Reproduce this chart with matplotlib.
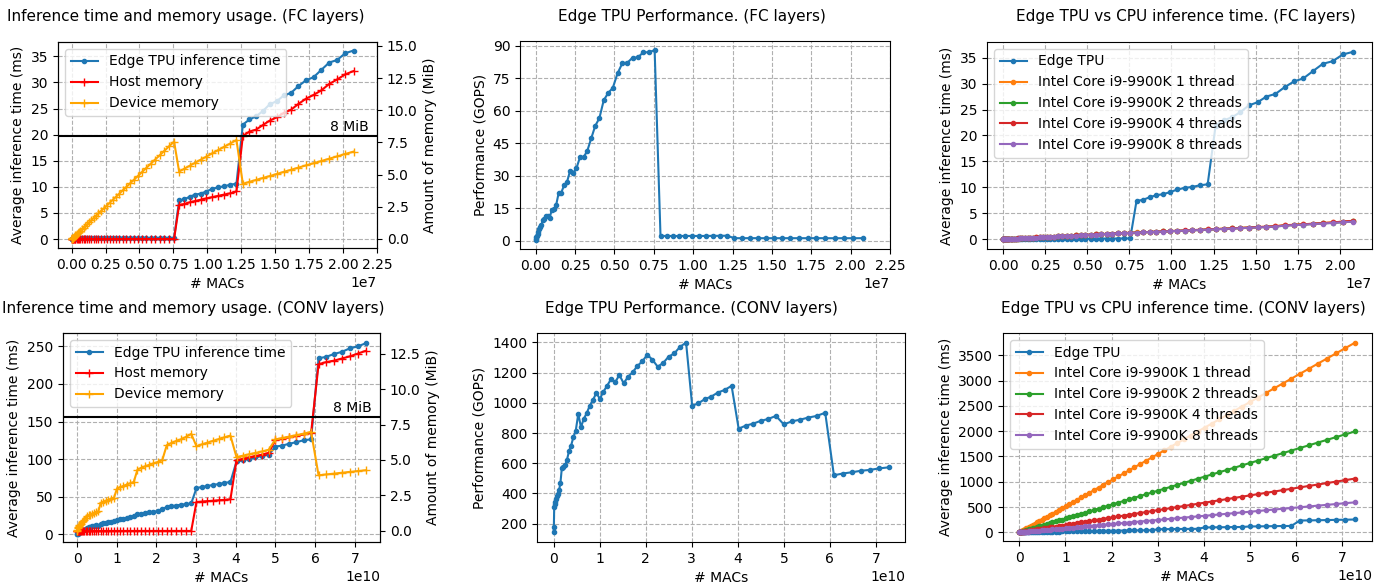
import matplotlib
matplotlib.use('Agg')
import matplotlib.pyplot as plt
import matplotlib.transforms as mtransforms
import numpy as np

W, H = 1387, 587

# ---------------- FC layers ----------------
# number of MACs of each tested layer (millions)
fc_macs_m = [0.0045, 0.018, 0.040, 0.072, 0.112, 0.162, 0.220, 0.287, 0.364, 0.449,
             0.544, 0.647, 0.759, 0.880, 1.011, 1.150, 1.298, 1.455, 1.622, 1.797,
             1.981, 2.174, 2.376, 2.587, 2.808, 3.037, 3.275, 3.522, 3.778, 4.043,
             4.317, 4.600, 4.892, 5.193, 5.503, 5.822, 6.150, 6.486, 6.832, 7.187,
             7.551, 7.924, 8.306, 8.696, 9.096, 9.505, 9.923, 10.350, 10.785, 11.230,
             11.684, 12.146, 12.618, 13.099, 13.588, 14.087, 14.594, 15.111, 15.636, 16.171,
             16.715, 17.267, 17.829, 18.399, 18.979, 19.567, 20.165, 20.771]
fc_tpu_ms = [0.02, 0.04, 0.05, 0.07, 0.07, 0.08, 0.08, 0.09, 0.10, 0.09,
             0.11, 0.12, 0.13, 0.17, 0.14, 0.16, 0.16, 0.13, 0.15, 0.14,
             0.15, 0.14, 0.15, 0.15, 0.15, 0.16, 0.16, 0.15, 0.14, 0.14,
             0.13, 0.13, 0.14, 0.13, 0.13, 0.14, 0.15, 0.15, 0.16, 0.17,
             0.17, 7.4, 7.6, 8.1, 8.5, 8.7, 9.1, 9.6, 9.9, 10.1,
             10.4, 10.6, 21.9, 22.9, 23.5, 24.5, 25.8, 26.4, 27.5, 28.0,
             29.3, 30.4, 31.0, 32.4, 33.8, 34.3, 35.6, 36.1]
fc_host_mib = [0.0, 0.0, 0.0, 0.0, 0.0, 0.0, 0.0, 0.0, 0.0, 0.0,
               0.0, 0.0, 0.0, 0.0, 0.0, 0.0, 0.0, 0.0, 0.0, 0.0,
               0.0, 0.0, 0.0, 0.0, 0.0, 0.0, 0.0, 0.0, 0.0, 0.0,
               0.0, 0.0, 0.0, 0.0, 0.0, 0.0, 0.0, 0.0, 0.0, 0.0,
               0.0, 2.65, 2.72, 2.85, 2.95, 3.05, 3.15, 3.25, 3.35, 3.45,
               3.55, 3.70, 8.0, 8.35, 8.5, 8.85, 9.2, 9.45, 9.8, 10.05,
               10.5, 10.9, 11.2, 11.55, 12.05, 12.4, 12.8, 13.05]
fc_device_mib = [0.01, 0.02, 0.04, 0.07, 0.11, 0.16, 0.22, 0.29, 0.37, 0.45,
                 0.55, 0.65, 0.76, 0.88, 1.01, 1.15, 1.30, 1.46, 1.63, 1.80,
                 1.99, 2.18, 2.38, 2.59, 2.82, 3.05, 3.28, 3.53, 3.79, 4.05,
                 4.33, 4.61, 4.90, 5.21, 5.52, 5.84, 6.17, 6.50, 6.85, 7.21,
                 7.57, 5.24, 5.46, 5.69, 5.92, 6.16, 6.40, 6.65, 6.90, 7.16,
                 7.42, 7.69, 4.29, 4.44, 4.59, 4.74, 4.89, 5.05, 5.22, 5.38,
                 5.55, 5.72, 5.89, 6.06, 6.24, 6.42, 6.61, 6.79]
fc_perf_gops = [0.4, 0.9, 1.5, 2.2, 3.2, 4.2, 5.3, 6.5, 7.3, 9.5,
                10.0, 11.2, 11.3, 10.5, 14.0, 14.5, 16.5, 22.0, 22.2, 25.5,
                27.0, 32.0, 31.3, 33.5, 38.5, 38.5, 41.5, 47.2, 53.0, 56.6,
                64.8, 68.2, 70.5, 77.2, 82.0, 82.2, 84.5, 84.6, 87.0, 87.0,
                88.0, 2.14, 2.19, 2.15, 2.14, 2.18, 2.18, 2.16, 2.18, 2.22,
                2.25, 2.29, 1.15, 1.14, 1.16, 1.15, 1.13, 1.14, 1.14, 1.15,
                1.14, 1.14, 1.15, 1.14, 1.12, 1.14, 1.13, 1.15]
fc_cpu1_ms = [0.01, 0.01, 0.02, 0.02, 0.03, 0.04, 0.05, 0.06, 0.07, 0.08,
              0.10, 0.12, 0.14, 0.16, 0.19, 0.21, 0.24, 0.27, 0.30, 0.33,
              0.36, 0.39, 0.43, 0.46, 0.50, 0.54, 0.58, 0.62, 0.66, 0.70,
              0.75, 0.80, 0.85, 0.90, 0.95, 1.00, 1.05, 1.10, 1.15, 1.20,
              1.26, 1.32, 1.37, 1.43, 1.48, 1.52, 1.58, 1.64, 1.70, 1.76,
              1.82, 1.90, 1.97, 2.05, 2.12, 2.20, 2.28, 2.35, 2.43, 2.52,
              2.72, 2.80, 2.90, 3.00, 3.15, 3.25, 3.40, 3.55]
fc_cpu2_ms = [0.01, 0.01, 0.02, 0.02, 0.03, 0.04, 0.05, 0.06, 0.07, 0.08,
              0.10, 0.12, 0.14, 0.16, 0.18, 0.21, 0.23, 0.26, 0.29, 0.32,
              0.35, 0.39, 0.42, 0.46, 0.49, 0.53, 0.57, 0.61, 0.65, 0.69,
              0.74, 0.79, 0.84, 0.89, 0.94, 0.99, 1.04, 1.09, 1.14, 1.19,
              1.24, 1.30, 1.36, 1.41, 1.46, 1.51, 1.57, 1.63, 1.69, 1.75,
              1.81, 1.88, 1.95, 2.02, 2.09, 2.17, 2.24, 2.31, 2.39, 2.47,
              2.66, 2.76, 2.85, 2.96, 3.08, 3.18, 3.32, 3.45]
fc_cpu4_ms = [0.01, 0.01, 0.02, 0.03, 0.03, 0.04, 0.05, 0.06, 0.07, 0.09,
              0.10, 0.12, 0.14, 0.17, 0.19, 0.22, 0.24, 0.27, 0.30, 0.33,
              0.37, 0.40, 0.43, 0.47, 0.50, 0.54, 0.58, 0.62, 0.67, 0.71,
              0.76, 0.81, 0.86, 0.90, 0.95, 1.00, 1.06, 1.11, 1.16, 1.21,
              1.26, 1.31, 1.37, 1.42, 1.47, 1.53, 1.59, 1.65, 1.71, 1.77,
              1.84, 1.90, 1.97, 2.04, 2.11, 2.19, 2.27, 2.35, 2.44, 2.53,
              2.70, 2.79, 2.89, 3.01, 3.13, 3.25, 3.41, 3.58]
fc_cpu8_ms = [0.01, 0.01, 0.02, 0.02, 0.03, 0.04, 0.05, 0.06, 0.07, 0.08,
              0.10, 0.11, 0.13, 0.16, 0.18, 0.20, 0.23, 0.26, 0.29, 0.32,
              0.35, 0.38, 0.41, 0.45, 0.49, 0.53, 0.57, 0.61, 0.65, 0.69,
              0.73, 0.78, 0.83, 0.88, 0.93, 0.98, 1.03, 1.08, 1.13, 1.18,
              1.23, 1.29, 1.34, 1.40, 1.45, 1.50, 1.56, 1.62, 1.67, 1.73,
              1.79, 1.86, 1.93, 2.00, 2.07, 2.14, 2.22, 2.29, 2.37, 2.45,
              2.63, 2.73, 2.82, 2.93, 3.05, 3.15, 3.28, 3.42]

# ---------------- CONV layers ----------------
# number of MACs of each tested layer (billions)
conv_macs_g = [0.015, 0.059, 0.134, 0.238, 0.372, 0.535, 0.728, 0.951, 1.204, 1.486,
               1.798, 2.140, 2.511, 2.913, 3.344, 3.804, 4.295, 4.815, 5.364, 5.944,
               6.553, 7.192, 7.861, 8.559, 9.288, 10.045, 10.833, 11.650, 12.497, 13.374,
               14.280, 15.217, 16.183, 17.178, 18.204, 19.259, 20.343, 21.458, 22.602, 23.776,
               24.980, 26.213, 27.476, 28.769, 30.092, 31.444, 32.826, 34.237, 35.679, 37.150,
               38.651, 40.181, 41.742, 43.332, 44.952, 46.601, 48.280, 49.989, 51.728, 53.496,
               55.294, 57.122, 58.979, 60.867, 62.784, 64.730, 66.707, 68.713, 70.748, 72.814]
conv_tpu_ms = [0.2, 0.7, 0.9, 1.4, 2.2, 2.9, 3.8, 4.8, 5.7, 6.3,
               6.3, 7.5, 8.6, 9.4, 9.8, 10.6, 11.1, 11.8, 11.6, 14.2,
               14.7, 15.5, 16.0, 16.8, 17.4, 19.6, 20.2, 20.9, 21.6, 23.5,
               24.1, 27.0, 27.6, 28.6, 29.3, 30.2, 30.9, 33.4, 36.5, 37.7,
               38.3, 39.5, 40.1, 41.2, 61.4, 63.1, 64.1, 65.8, 66.8, 68.5,
               69.5, 96.9, 98.3, 100.5, 102.2, 104.4, 105.8, 116.7, 118.0, 120.5,
               122.6, 125.1, 126.3, 234.1, 236.0, 239.7, 242.6, 247.2, 250.0, 254.1]
conv_host_mib = [0.0, 0.0, 0.0, 0.0, 0.0, 0.0, 0.0, 0.0, 0.0, 0.0,
                 0.0, 0.0, 0.0, 0.0, 0.0, 0.0, 0.0, 0.0, 0.0, 0.0,
                 0.0, 0.0, 0.0, 0.0, 0.0, 0.0, 0.0, 0.0, 0.0, 0.0,
                 0.0, 0.0, 0.0, 0.0, 0.0, 0.0, 0.0, 0.0, 0.0, 0.0,
                 0.0, 0.0, 0.0, 0.0, 2.04, 2.07, 2.10, 2.13, 2.16, 2.19,
                 2.23, 4.98, 5.08, 5.18, 5.28, 5.38, 5.50, 6.40, 6.50, 6.60,
                 6.70, 6.80, 6.90, 11.75, 11.90, 12.00, 12.15, 12.30, 12.50, 12.70]
conv_device_mib = [0.02, 0.10, 0.18, 0.26, 0.32, 0.40, 0.45, 0.50, 0.60, 0.70,
                   0.78, 0.90, 1.05, 1.10, 1.15, 1.22, 1.27, 1.32, 1.38, 1.97,
                   2.05, 2.12, 2.20, 2.27, 2.33, 2.98, 3.08, 3.17, 3.27, 3.36,
                   3.45, 4.32, 4.45, 4.56, 4.66, 4.76, 4.86, 4.98, 6.04, 6.20,
                   6.34, 6.46, 6.63, 6.84, 5.97, 6.10, 6.22, 6.35, 6.47, 6.60,
                   6.72, 5.20, 5.30, 5.40, 5.50, 5.60, 5.72, 6.45, 6.55, 6.65,
                   6.75, 6.86, 6.98, 3.92, 3.98, 4.04, 4.10, 4.16, 4.22, 4.28]
conv_perf_gops = [143, 178, 310, 330, 345, 365, 380, 398, 424, 469,
                  570, 572, 585, 623, 680, 717, 772, 816, 927, 838,
                  894, 931, 982, 1019, 1065, 1026, 1074, 1114, 1158, 1136,
                  1184, 1129, 1173, 1202, 1244, 1274, 1318, 1285, 1239, 1263,
                  1305, 1327, 1371, 1398, 980, 997, 1024, 1041, 1068, 1085,
                  1112, 829, 849, 862, 880, 893, 913, 857, 877, 888,
                  902, 913, 934, 520, 532, 540, 550, 556, 566, 573]
conv_cpu1_ms = [0.8, 3, 7, 12, 19, 28, 37, 49, 62, 77,
                93, 110, 129, 150, 172, 196, 221, 248, 276, 306,
                337, 370, 405, 441, 478, 517, 558, 600, 644, 689,
                735, 784, 833, 885, 937, 992, 1048, 1105, 1164, 1224,
                1286, 1350, 1415, 1482, 1550, 1619, 1691, 1763, 1837, 1913,
                1991, 2069, 2150, 2232, 2315, 2400, 2486, 2574, 2664, 2755,
                2848, 2942, 3037, 3135, 3233, 3334, 3435, 3539, 3644, 3750]
conv_cpu2_ms = [0.4, 1.6, 3.7, 6.5, 10, 15, 20, 26, 33, 41,
                49, 59, 69, 80, 92, 104, 118, 132, 147, 163,
                180, 197, 215, 235, 254, 275, 297, 319, 342, 366,
                391, 417, 443, 471, 499, 528, 557, 588, 619, 651,
                684, 718, 753, 788, 825, 862, 899, 938, 978, 1018,
                1059, 1101, 1144, 1187, 1232, 1277, 1323, 1370, 1417, 1466,
                1515, 1565, 1616, 1668, 1720, 1774, 1828, 1883, 1938, 1995]
conv_cpu4_ms = [0.3, 1, 2.2, 3.8, 6, 8.5, 11.5, 15, 19, 23.5,
                28, 33, 39, 45, 51, 57, 64, 71, 79, 87,
                96, 105, 115, 125, 135, 147, 158, 170, 183, 196,
                209, 223, 237, 252, 267, 282, 298, 314, 330, 347,
                365, 383, 401, 420, 440, 459, 479, 500, 521, 542,
                564, 587, 609, 633, 656, 680, 705, 730, 755, 781,
                807, 834, 861, 889, 917, 945, 974, 1003, 1033, 1063]
conv_cpu8_ms = [0.1, 0.5, 1.1, 1.9, 3, 4.4, 5.9, 7.8, 9.8, 12,
                15, 17, 20, 24, 27, 31, 35, 39, 44, 48,
                53, 59, 64, 70, 76, 82, 88, 95, 102, 109,
                116, 124, 132, 140, 148, 157, 166, 175, 184, 194,
                204, 214, 224, 234, 245, 256, 268, 279, 291, 303,
                315, 327, 340, 353, 366, 380, 393, 407, 422, 436,
                451, 466, 481, 496, 512, 528, 544, 560, 577, 593]

cpu_labels = ['Intel Core i9-9900K 1 thread', 'Intel Core i9-9900K 2 threads',
              'Intel Core i9-9900K 4 threads', 'Intel Core i9-9900K 8 threads']

# tick positions shown in the figure
fc_xticks = np.arange(0, 2.26e7, 0.25e7)
fc_cpu_xticks = np.arange(0, 2.01e7, 0.25e7)
conv_xticks = np.arange(0, 7.1e10, 1e10)


def axes_at(fig, left, top, right, bottom):
    """Create axes from a pixel box of the 1387x587 figure."""
    return fig.add_axes([left / W, 1 - bottom / H, (right - left) / W, (bottom - top) / H])


def title_at(fig, text, cx, y, size=11):
    fig.text(cx / W, 1 - y / H, text, ha='center', va='baseline', fontsize=size)


def plot_memory(ax, macs, tpu, host, device):
    l1, = ax.plot(macs, tpu, marker='.', color='C0', label='Edge TPU inference time')
    ax.set_xlabel('# MACs')
    ax.set_ylabel('Average inference time (ms)')
    ax.grid(linestyle='--')

    ax2 = ax.twinx()
    l2, = ax2.plot(macs, host, marker='+', color='red', label='Host memory')
    l3, = ax2.plot(macs, device, marker='+', color='orange', label='Device memory')
    ax2.axhline(8, color='black', linewidth=1.5)
    trans = mtransforms.blended_transform_factory(ax2.transAxes, ax2.transData)
    ax2.text(0.973, 8.4, '8 MiB', transform=trans, ha='right', va='baseline')
    ax2.set_ylabel('Amount of memory (MiB)')
    ax2.legend(handles=[l1, l2, l3], loc='upper left')
    return ax2


def plot_perf(ax, macs, perf):
    ax.plot(macs, perf, marker='.', color='C0')
    ax.set_xlabel('# MACs')
    ax.set_ylabel('Performance (GOPS)')
    ax.grid(linestyle='--')


def plot_cpu(ax, macs, tpu, cpus):
    ax.plot(macs, tpu, marker='.', label='Edge TPU')
    for values, label in zip(cpus, cpu_labels):
        ax.plot(macs, values, marker='.', label=label)
    ax.set_xlabel('# MACs')
    ax.set_ylabel('Average inference time (ms)')
    ax.grid(linestyle='--')
    ax.legend(loc='upper left')


fig = plt.figure(figsize=(W / 100, H / 100), dpi=100)

fc_x = np.array(fc_macs_m) * 1e6
conv_x = np.array(conv_macs_g) * 1e9

# top row: FC layers
ax = axes_at(fig, 58, 42, 377, 248)
ax2 = plot_memory(ax, fc_x, fc_tpu_ms, fc_host_mib, fc_device_mib)
ax.set_xticks(fc_xticks)
ax.set_xlim(-0.1e7, 2.25e7)
ax.set_yticks(np.arange(0, 36, 5))
ax.set_ylim(-1.72, 37.74)
ax2.set_yticks(np.arange(0, 15.1, 2.5))
ax2.set_ylim(-0.70, 15.31)
title_at(fig, 'Inference time and memory usage. (FC layers)', 186, 21)

ax = axes_at(fig, 520, 41, 890, 249)
plot_perf(ax, fc_x, fc_perf_gops)
ax.set_xticks(fc_xticks)
ax.set_xlim(-0.1e7, 2.25e7)
ax.set_yticks(np.arange(0, 91, 15))
ax.set_ylim(-3.85, 92.2)
title_at(fig, 'Edge TPU Performance. (FC layers)', 692, 21)

ax = axes_at(fig, 987, 42, 1372, 249)
plot_cpu(ax, fc_x, fc_tpu_ms, [fc_cpu1_ms, fc_cpu2_ms, fc_cpu4_ms, fc_cpu8_ms])
ax.set_xticks(fc_cpu_xticks)
ax.set_xlim(-0.095e7, 2.19e7)
ax.set_yticks(np.arange(0, 36, 5))
ax.set_ylim(-1.86, 38.0)
title_at(fig, 'Edge TPU vs CPU inference time. (FC layers)', 1186, 21)

# bottom row: CONV layers
ax = axes_at(fig, 63, 333, 380, 542)
ax2 = plot_memory(ax, conv_x, conv_tpu_ms, conv_host_mib, conv_device_mib)
ax.set_xticks(conv_xticks)
ax.set_xlim(-0.355e10, 7.635e10)
ax.set_yticks(np.arange(0, 251, 50))
ax.set_ylim(-10.2, 267.7)
ax2.set_yticks(np.arange(0, 12.6, 2.5))
ax2.set_ylim(-0.78, 13.95)
title_at(fig, 'Inference time and memory usage. (CONV layers)', 193, 313)

ax = axes_at(fig, 537, 333, 905, 542)
plot_perf(ax, conv_x, conv_perf_gops)
ax.set_xticks(conv_xticks)
ax.set_xlim(-0.36e10, 7.63e10)
ax.set_yticks(np.arange(200, 1401, 200))
ax.set_ylim(78.7, 1461.8)
title_at(fig, 'Edge TPU Performance. (CONV layers)', 691, 313)

ax = axes_at(fig, 1003, 333, 1372, 541)
plot_cpu(ax, conv_x, conv_tpu_ms, [conv_cpu1_ms, conv_cpu2_ms, conv_cpu4_ms, conv_cpu8_ms])
ax.set_xticks(conv_xticks)
ax.set_xlim(-0.354e10, 7.65e10)
ax.set_yticks(np.arange(0, 3501, 500))
ax.set_ylim(-171, 3941)
title_at(fig, 'Edge TPU vs CPU inference time. (CONV layers)', 1183, 313)

fig.savefig('out.png', dpi=100)
